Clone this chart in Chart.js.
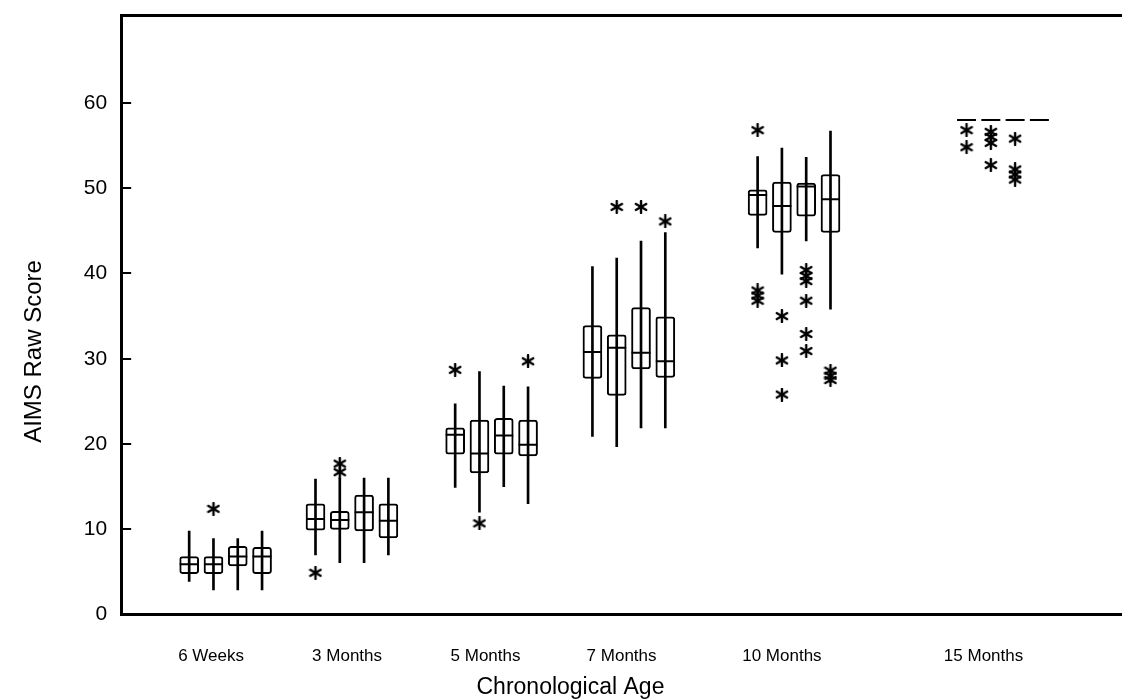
<!DOCTYPE html>
<html>
<head>
<meta charset="utf-8">
<script src="https://cdn.jsdelivr.net/npm/chart.js@4"></script>
<style>
    html, body { margin: 0; padding: 0; background: #fff; }
    #wrap { width: 1122px; height: 699px; }
</style>
</head>
<body>
<div id="wrap"><canvas id="chart-aims"></canvas></div>
<script>
// age groups, 4 boxes per group
const ages = ['6 Weeks', '3 Months', '5 Months', '7 Months', '10 Months', '15 Months'];

const whiskerLow = [[3.9, 2.9, 2.9, 2.9], [7, 6.1, 6.1, 7], [14.9, 12, 15, 13], [20.9, 19.7, 21.9, 21.9], [43, 39.9, 43.8, 35.8], [58, 58, 58, 58]];
const q1 =         [[4.8, 4.8, 5.7, 4.8], [9.9, 10, 9.8, 9], [18.8, 16.6, 18.8, 18.6], [27.7, 25.7, 28.8, 27.8], [46.8, 44.8, 46.7, 44.8], [58, 58, 58, 58]];
const median =     [[5.9, 5.9, 6.8, 6.8], [11.2, 11.1, 12, 11], [21.1, 18.9, 21, 19.9], [30.8, 31.3, 30.7, 29.7], [49.2, 47.9, 50.2, 48.7], [58, 58, 58, 58]];
const q3 =         [[6.8, 6.8, 8, 7.9], [13, 12.1, 14, 13], [21.9, 22.8, 23, 22.8], [33.9, 32.8, 36, 34.9], [49.8, 50.7, 50.6, 51.6], [58, 58, 58, 58]];
const whiskerHigh = [[9.8, 8.9, 8.9, 9.8], [15.9, 16, 16, 16], [24.7, 28.5, 26.8, 26.7], [40.8, 41.8, 43.8, 44.8], [53.7, 54.7, 53.6, 56.7], [58, 58, 58, 58]];
const outliers = [
    [[], [12.4], [], []],
    [[4.9], [17.7, 16.7], [], []],
    [[28.7], [10.7], [], [29.7]],
    [[], [47.8], [47.8], [46.1]],
    [[56.8, 38, 37.4, 36.8], [35, 29.8, 25.8], [40.4, 39.7, 39.1, 36.8, 32.9, 30.9], [28.6, 28, 27.5]],
    [[56.8, 54.8], [56.6, 56, 55.3, 52.7], [55.8, 52.2, 51.6, 51], []]
];
const yTicks = [0, 10, 20, 30, 40, 50, 60];

// layout of the x axis, in box-slot units
const groupCenter = [4.3, 9.5, 15.25, 20.9, 27.7, 36.3];
const labelPos = [3.7, 9.3, 15.0, 20.6, 27.2, 35.5];
const boxOffset = [-1.5, -0.5, 0.5, 1.5];

const boxes = [], whiskers = [], medians = [], stars = [];
ages.forEach((age, g) => {
    boxOffset.forEach((off, b) => {
        const x = groupCenter[g] + off;
        medians.push({ x, y: median[g][b] });
        if (q3[g][b] > q1[g][b]) boxes.push({ x, y: [q1[g][b], q3[g][b]] });
        if (whiskerHigh[g][b] > whiskerLow[g][b]) whiskers.push({ x, y: [whiskerLow[g][b], whiskerHigh[g][b]] });
        outliers[g][b].forEach(v => stars.push({ x, y: v }));
    });
});

// six-armed asterisk used as point style for the outliers
function asterisk(size) {
    const c = document.createElement('canvas');
    c.width = c.height = size;
    const ctx = c.getContext('2d');
    const r = size / 2 - 1;
    ctx.strokeStyle = '#000';
    ctx.lineWidth = 2.4;
    ctx.lineCap = 'round';
    [90, 30, 150].forEach(a => {
        const dx = Math.cos(a * Math.PI / 180) * r, dy = Math.sin(a * Math.PI / 180) * r;
        ctx.beginPath();
        ctx.moveTo(size / 2 - dx, size / 2 - dy);
        ctx.lineTo(size / 2 + dx, size / 2 + dy);
        ctx.stroke();
    });
    return c;
}

const font = 'Liberation Sans, Arial, sans-serif';
const noSidePadding = s => { s.paddingLeft = 0; s.paddingRight = 0; s.paddingTop = 0; s.paddingBottom = 0; };
// trailing no-break spaces nudge the centred axis titles to where the original has them
const pad = n => '\u00a0'.repeat(n);

new Chart(document.getElementById('chart-aims'), {
    type: 'bar',
    data: {
        datasets: [
            { type: 'scatter', label: 'Outliers', data: stars, pointStyle: asterisk(14), radius: 7, order: 0 },
            { type: 'scatter', label: 'Median', data: medians, pointStyle: 'line', radius: 9.5, borderWidth: 2, borderColor: '#000', order: 1 },
            { label: 'Whisker', data: whiskers, barThickness: 2, backgroundColor: '#000', borderWidth: 0, grouped: false, order: 2 },
            { label: 'Box', data: boxes, barThickness: 19, backgroundColor: '#fff', borderColor: '#000', borderWidth: 2, borderSkipped: false, borderRadius: 3, grouped: false, order: 3 },
        ]
    },
    options: {
        responsive: true,
        maintainAspectRatio: false,
        animation: false,
        layout: { autoPadding: false, padding: { top: 15, right: 0, left: 0, bottom: 0 } },
        plugins: { legend: { display: false }, tooltip: { enabled: false } },
        scales: {
            x: {
                type: 'linear',
                min: 0,
                max: 41.2,
                offset: false,
                afterBuildTicks: scale => { scale.ticks = labelPos.map(v => ({ value: v })); },
                afterFit: noSidePadding,
                ticks: {
                    autoSkip: false,
                    maxRotation: 0,
                    padding: 32,
                    color: '#000',
                    font: { family: font, size: 17 },
                    callback: (v, i) => ages[i]
                },
                grid: { display: false, drawTicks: false },
                border: { display: true, color: '#000', width: 3 },
                title: { display: true, text: 'Chronological Age' + pad(16), color: '#000', font: { family: font, size: 23, lineHeight: 1 }, padding: { top: -23, bottom: 0 } }
            },
            xTop: {
                type: 'linear',
                position: 'top',
                min: 0,
                max: 1,
                afterFit: noSidePadding,
                ticks: { display: false },
                grid: { display: false, drawTicks: false },
                border: { display: true, color: '#000', width: 3 }
            },
            y: {
                min: 0,
                max: 70.3,
                afterBuildTicks: scale => { scale.ticks = yTicks.map(v => ({ value: v })); },
                afterFit: noSidePadding,
                ticks: { padding: 24, color: '#000', font: { family: font, size: 21 } },
                grid: { display: true, drawOnChartArea: false, drawTicks: true, tickLength: -10, color: '#000', lineWidth: 2 },
                border: { display: true, color: '#000', width: 3 },
                title: { display: true, text: 'AIMS Raw Score' + pad(11), color: '#000', font: { family: font, size: 24 }, padding: { top: 20, bottom: 11 } }
            }
        }
    }
});
</script>
</body>
</html>
